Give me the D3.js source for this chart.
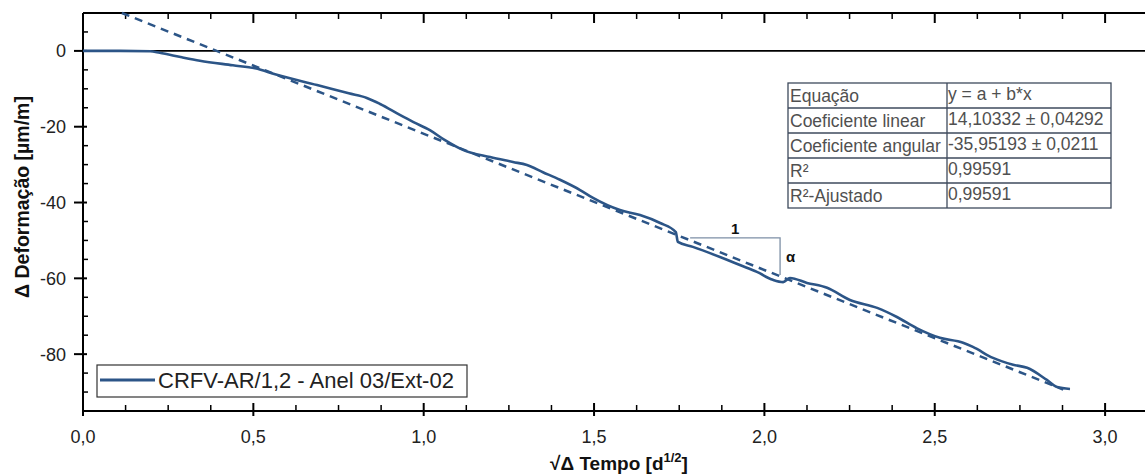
<!DOCTYPE html>
<html><head><meta charset="utf-8">
<script src="https://cdn.jsdelivr.net/npm/d3@7"></script>
<style>
body{margin:0;background:#fff;}
svg text{font-family:"Liberation Sans",Arial,sans-serif;}
</style></head>
<body><svg id="c" width="1145" height="474"></svg>
<script>
// measured series (sqrt time, strain)
const xVals=[0,0.109,0.197,0.225,0.290,0.343,0.440,0.505,0.569,0.687,0.780,0.833,0.872,0.930,0.970,1.018,1.060,1.115,1.195,1.262,1.303,1.350,1.400,1.459,1.497,1.576,1.635,1.694,1.740,1.746,1.790,1.890,1.928,1.978,2.025,2.055,2.075,2.125,2.184,2.251,2.331,2.389,2.448,2.515,2.583,2.612,2.671,2.730,2.771,2.829,2.859,2.897];
const yVals=[0,0,-0.1,-0.5,-1.7,-2.6,-3.8,-4.6,-6.3,-9.0,-11.2,-12.4,-14.0,-16.9,-18.8,-20.9,-23.4,-26.1,-28.0,-29.3,-30.1,-32.0,-34.0,-36.7,-38.8,-42.0,-43.3,-45.4,-47.8,-50.4,-51.7,-55.1,-56.5,-58.3,-60.4,-61.0,-59.9,-61.2,-62.5,-65.7,-67.8,-70.2,-73.2,-75.7,-77.0,-78.1,-81.0,-82.8,-83.6,-86.8,-88.7,-89.2];
// linear fit
const fitA=14.10332, fitB=-35.95193;
const fitX=[0.114,2.877];
// table
const tableLeft=["Equação","Coeficiente linear","Coeficiente angular","R²","R²-Ajustado"];
const tableRight=["y = a + b*x","14,10332 ± 0,04292","-35,95193 ± 0,0211","0,99591","0,99591"];
const xTicks=[0,0.5,1.0,1.5,2.0,2.5,3.0];
const yTicks=[0,-20,-40,-60,-80];
const triX=[1.782,2.046], triY=[-49.3,-59.1];
const legendLabel="CRFV-AR/1,2 - Anel 03/Ext-02";

const svg=d3.select("#c");
const L=83,T=13,B=411;
const x=d3.scaleLinear().domain([0,3.2]).range([L,L+3.2*340.7]);
const y=d3.scaleLinear().domain([10,-95]).range([T,B]);
const R=1160;
const col="#2c5587";
const fmt=d=>d3.format(".1f")(d).replace(".",",");

// frame lines
svg.append("line").attr("x1",L).attr("x2",R).attr("y1",T).attr("y2",T).attr("stroke","#000").attr("stroke-width",2);
svg.append("line").attr("x1",L).attr("x2",R).attr("y1",B).attr("y2",B).attr("stroke","#000").attr("stroke-width",2);
svg.append("line").attr("x1",L).attr("x2",L).attr("y1",T).attr("y2",B).attr("stroke","#000").attr("stroke-width",2);
// zero line
svg.append("line").attr("x1",L).attr("x2",R).attr("y1",y(0)).attr("y2",y(0)).attr("stroke","#000").attr("stroke-width",1.6);

// x ticks
const xMinor=d3.range(0,3.2,0.125).filter(v=>Math.abs(v*2-Math.round(v*2))>1e-6);
const gx=svg.append("g");
xTicks.forEach(v=>{
  gx.append("line").attr("x1",x(v)).attr("x2",x(v)).attr("y1",B-8).attr("y2",B+5).attr("stroke","#000").attr("stroke-width",2);
  gx.append("line").attr("x1",x(v)).attr("x2",x(v)).attr("y1",T).attr("y2",T+10).attr("stroke","#000").attr("stroke-width",2);
  gx.append("text").attr("x",x(v)).attr("y",443).attr("text-anchor","middle").attr("font-size",18).attr("fill","#222").text(fmt(v));
});
xMinor.forEach(v=>{
  gx.append("line").attr("x1",x(v)).attr("x2",x(v)).attr("y1",B-6).attr("y2",B).attr("stroke","#000").attr("stroke-width",1.5);
  gx.append("line").attr("x1",x(v)).attr("x2",x(v)).attr("y1",T).attr("y2",T+6).attr("stroke","#000").attr("stroke-width",1.5);
});
// y ticks
const yMinor=d3.range(5,-95,-5).filter(v=>v%20!==0);
yTicks.forEach(v=>{
  svg.append("line").attr("x1",L-9).attr("x2",L+4).attr("y1",y(v)).attr("y2",y(v)).attr("stroke","#000").attr("stroke-width",2);
  svg.append("text").attr("x",66).attr("y",y(v)+6.5).attr("text-anchor","end").attr("font-size",18).attr("fill","#222").text(v);
});
yMinor.forEach(v=>{
  svg.append("line").attr("x1",L).attr("x2",L+5).attr("y1",y(v)).attr("y2",y(v)).attr("stroke","#000").attr("stroke-width",1.5);
});

// fit line
svg.append("path").datum(fitX).attr("d",d3.line().x(d=>x(d)).y(d=>y(fitA+fitB*d)))
  .attr("fill","none").attr("stroke",col).attr("stroke-width",2.5).attr("stroke-dasharray","8,6");
// data line
const pts=xVals.map((v,i)=>[v,yVals[i]]);
svg.append("path").datum(pts).attr("d",d3.line().x(d=>x(d[0])).y(d=>y(d[1])).curve(d3.curveMonotoneX))
  .attr("fill","none").attr("stroke",col).attr("stroke-width",2.6).attr("stroke-linejoin","round");

// slope triangle
svg.append("path").attr("d",`M${x(triX[0])},${y(triY[0])}H${x(triX[1])}V${y(triY[1])}`)
  .attr("fill","none").attr("stroke","#7d8fa6").attr("stroke-width",1.3);
svg.append("text").attr("x",(x(triX[0])+x(triX[1]))/2).attr("y",y(triY[0])-4).attr("text-anchor","middle")
  .attr("font-size",15).attr("font-weight","bold").attr("fill","#111").text("1");
svg.append("text").attr("x",x(triX[1])+6).attr("y",(y(triY[0])+y(triY[1]))/2+6)
  .attr("font-size",15).attr("font-weight","bold").attr("fill","#111").text("α");

// table
const tx0=788,tx1=947,tx2=1111,ty0=83,rh=25;
const gt=svg.append("g");
gt.append("rect").attr("x",tx0).attr("y",ty0).attr("width",tx2-tx0).attr("height",rh*tableLeft.length).attr("fill","#fff").attr("stroke","#3e4a5c").attr("stroke-width",1.3);
gt.append("line").attr("x1",tx1).attr("x2",tx1).attr("y1",ty0).attr("y2",ty0+rh*tableLeft.length).attr("stroke","#3e4a5c").attr("stroke-width",1.3);
tableLeft.forEach((t,i)=>{
  if(i>0) gt.append("line").attr("x1",tx0).attr("x2",tx2).attr("y1",ty0+rh*i).attr("y2",ty0+rh*i).attr("stroke","#3e4a5c").attr("stroke-width",1.3);
  gt.append("text").attr("x",tx0+2).attr("y",ty0+rh*i+18.5).attr("font-size",17.5).attr("fill","#505050").text(t);
  gt.append("text").attr("x",tx1+1).attr("y",ty0+rh*i+17).attr("font-size",17.5).attr("fill","#505050").text(tableRight[i]);
});

// legend
svg.append("rect").attr("x",97).attr("y",365).attr("width",370).attr("height",32).attr("fill","#fff").attr("stroke","#333").attr("stroke-width",1.2);
svg.append("line").attr("x1",100).attr("x2",155).attr("y1",380).attr("y2",380).attr("stroke",col).attr("stroke-width",2.8);
svg.append("text").attr("x",158).attr("y",388).attr("font-size",22).attr("fill","#222").text(legendLabel);

// axis titles
svg.append("text").attr("transform","translate(29,197) rotate(-90)").attr("text-anchor","middle")
  .attr("font-size",19.5).attr("font-weight","bold").attr("fill","#111").text("Δ Deformação [µm/m]");
const xt=svg.append("text").attr("x",619).attr("y",470).attr("text-anchor","middle").attr("font-size",19).attr("font-weight","bold").attr("fill","#111");
xt.append("tspan").text("√Δ Tempo [d");
xt.append("tspan").attr("dy",-8).attr("font-size",13).text("1/2");
xt.append("tspan").attr("dy",8).text("]");
</script></body></html>
